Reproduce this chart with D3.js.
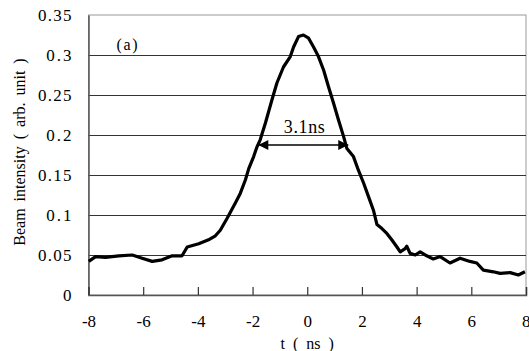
<!DOCTYPE html>
<html>
<head>
<meta charset="utf-8">
<script src="https://cdn.jsdelivr.net/npm/d3@7"></script>
<style>
  html, body { margin: 0; padding: 0; background: #fff; }
</style>
</head>
<body>
<svg id="chart" width="529" height="351"></svg>
<script>
// beam pulse profile
const timeNs = [
  -7.99, -7.74, -7.38, -6.89, -6.40, -6.04, -5.67, -5.31, -4.94, -4.58,
  -4.39, -3.97, -3.61, -3.36, -3.18, -2.93, -2.63, -2.45, -2.26, -2.14,
  -1.96, -1.84, -1.72, -1.53, -1.29, -1.11, -0.87, -0.62, -0.50, -0.32,
  -0.14, 0.05, 0.23, 0.41, 0.60, 0.78, 0.96, 1.14, 1.33, 1.45,
  1.69, 1.87, 2.06, 2.24, 2.42, 2.55, 2.73, 2.91, 3.09, 3.28,
  3.40, 3.58, 3.64, 3.76, 3.95, 4.13, 4.37, 4.61, 4.86, 5.22,
  5.59, 5.95, 6.20, 6.44, 6.81, 7.05, 7.42, 7.72, 7.96
];
const intensity = [
  0.042, 0.048, 0.047, 0.049, 0.050, 0.046, 0.042, 0.044, 0.049, 0.049,
  0.060, 0.064, 0.069, 0.074, 0.081, 0.096, 0.115, 0.127, 0.144, 0.158,
  0.173, 0.185, 0.194, 0.215, 0.244, 0.265, 0.285, 0.298, 0.310, 0.323,
  0.325, 0.321, 0.310, 0.298, 0.281, 0.260, 0.240, 0.219, 0.198, 0.183,
  0.173, 0.156, 0.140, 0.123, 0.106, 0.088, 0.083, 0.077, 0.069, 0.060,
  0.054, 0.058, 0.061, 0.052, 0.050, 0.054, 0.049, 0.045, 0.048, 0.040,
  0.046, 0.042, 0.040, 0.031, 0.029, 0.027, 0.028, 0.025, 0.029
];
const xTicks = [-8, -6, -4, -2, 0, 2, 4, 6, 8];
const yTicks = [0, 0.05, 0.1, 0.15, 0.2, 0.25, 0.3, 0.35];
const widthLabel = '3.1ns';
const widthStart = -1.79;
const widthEnd = 1.5;
const widthLevel = 0.1875;

const FONT = '"Liberation Serif", "DejaVu Serif", serif';

const svg = d3.select('#chart');
const margin = { top: 15, right: 3, bottom: 56, left: 88.5 };
const width = 529, height = 351;
const innerW = width - margin.left - margin.right;
const innerH = height - margin.top - margin.bottom;

const x = d3.scaleLinear().domain([-8, 8]).range([0, innerW]);
const y = d3.scaleLinear().domain([0, 0.35]).range([innerH, 0]);

// the original uses a font with half-width punctuation, so spread glyphs a bit
function styleText(sel, size, perChar) {
  sel.attr('font-family', FONT).attr('font-size', size).attr('fill', '#000');
  if (perChar) {
    sel.each(function () {
      const n = this.textContent.length;
      d3.select(this).attr('textLength', n * perChar).attr('lengthAdjust', 'spacing');
    });
  }
  return sel;
}

const g = svg.append('g').attr('transform', `translate(${margin.left},${margin.top})`);

// plot border (light top/right)
g.append('rect')
  .attr('x', 0).attr('y', 0).attr('width', innerW).attr('height', innerH)
  .attr('fill', 'none').attr('stroke', '#9a9a9a').attr('stroke-width', 1);

// gridlines
g.selectAll('.grid').data(yTicks.filter(d => d > 0 && d < 0.35)).join('line')
  .attr('class', 'grid')
  .attr('x1', 0).attr('x2', innerW)
  .attr('y1', d => Math.round(y(d)) + 0.5).attr('y2', d => Math.round(y(d)) + 0.5)
  .attr('stroke', '#333').attr('stroke-width', 1.2);

// y axis
const yAxis = d3.axisLeft(y).tickValues(yTicks).tickSize(0).tickPadding(17)
  .tickFormat(d => String(+d.toFixed(2)));
const ya = g.append('g').call(yAxis);
ya.attr('font-family', FONT);
ya.select('.domain').attr('stroke', '#555').attr('stroke-width', 1.5);
styleText(ya.selectAll('text'), 17, 8.4);

// x axis with inward ticks
const xAxis = d3.axisBottom(x).tickValues(xTicks).tickSize(-8).tickPadding(20)
  .tickFormat(d => String(d));
const xa = g.append('g').attr('transform', `translate(0,${innerH})`).call(xAxis);
xa.attr('font-family', FONT);
xa.select('.domain').attr('stroke', '#555').attr('stroke-width', 1.5);
xa.selectAll('.tick line').attr('stroke', '#333').attr('stroke-width', 1.2);
styleText(xa.selectAll('text'), 17);
// last label sits on the window edge; keep it inside
xa.selectAll('.tick text').filter(d => d === 8).attr('text-anchor', 'end').attr('dx', 4);

// the pulse
const line = d3.line().x((d, i) => x(timeNs[i])).y(d => y(d));
g.append('path')
  .datum(intensity)
  .attr('d', line)
  .attr('fill', 'none')
  .attr('stroke', '#000')
  .attr('stroke-width', 3.2)
  .attr('stroke-linejoin', 'round');

// FWHM arrow
const defs = svg.append('defs');
['start', 'end'].forEach(k => {
  defs.append('marker')
    .attr('id', 'arrow-' + k)
    .attr('viewBox', '0 0 10 10')
    .attr('refX', k === 'end' ? 10 : 0).attr('refY', 5)
    .attr('markerWidth', 11).attr('markerHeight', 10)
    .attr('markerUnits', 'userSpaceOnUse')
    .attr('orient', 'auto')
    .append('path')
    .attr('d', k === 'end' ? 'M0,0 L10,5 L0,10 Z' : 'M10,0 L0,5 L10,10 Z')
    .attr('fill', '#000');
});
g.append('line')
  .attr('x1', x(widthStart)).attr('x2', x(widthEnd))
  .attr('y1', y(widthLevel)).attr('y2', y(widthLevel))
  .attr('stroke', '#000').attr('stroke-width', 1.3)
  .attr('marker-start', 'url(#arrow-start)')
  .attr('marker-end', 'url(#arrow-end)');
styleText(g.append('text')
  .attr('x', x((widthStart + widthEnd) / 2) + 1)
  .attr('y', y(widthLevel) - 12)
  .attr('text-anchor', 'middle')
  .text(widthLabel), 18, 8.2);

// panel label
styleText(g.append('text')
  .attr('x', 28).attr('y', 35)
  .text('(a)'), 16, 7);

// axis titles
styleText(svg.append('text')
  .attr('x', margin.left + x(0))
  .attr('y', 349)
  .attr('text-anchor', 'middle')
  .attr('word-spacing', 4)
  .text('t ( ns )'), 16);
styleText(svg.append('text')
  .attr('transform', `translate(25,${margin.top + innerH / 2 - 3}) rotate(-90)`)
  .attr('text-anchor', 'middle')
  .attr('word-spacing', 3)
  .text('Beam intensity ( arb. unit )'), 16);
</script>
</body>
</html>
